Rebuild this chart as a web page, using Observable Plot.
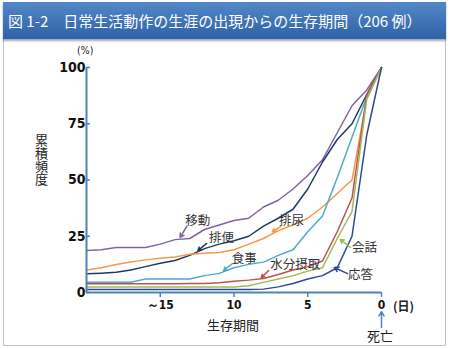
<!DOCTYPE html>
<html><head><meta charset="utf-8">
<script src="https://cdn.jsdelivr.net/npm/d3@7"></script>
<script src="https://cdn.jsdelivr.net/npm/@observablehq/plot@0.6"></script>
<style>
html,body{margin:0;padding:0;background:#fff;width:450px;height:349px;overflow:hidden;position:relative;font-family:"Noto Sans CJK JP",sans-serif;}
#title{position:absolute;left:3px;top:2px;width:443px;height:37px;background:linear-gradient(#5287c8,#2f62a6);box-shadow:0 2px 2px rgba(0,0,0,0.35);color:#fff;font-size:15px;line-height:37px;padding-left:5px;box-sizing:border-box;white-space:nowrap;}
#panel{position:absolute;left:3px;top:39px;width:443px;height:307px;border:1px solid #b9c3cf;border-top:none;box-sizing:border-box;}
#chart{position:absolute;left:0;top:40px;}
.t{position:absolute;color:#222;white-space:nowrap;}
</style></head><body>
<div id="panel"></div>
<div id="title">図 1-2　日常生活動作の生涯の出現からの生存期間（206 例）</div>
<div id="chart"></div>
<div class="t" style="left:77px;top:44px;font-size:10.5px;font-family:'DejaVu Sans Condensed',sans-serif;">(%)</div>
<div class="t" style="left:32px;top:134px;font-size:13px;writing-mode:vertical-rl;">累積頻度</div>
<div class="t" style="left:393px;top:297px;font-size:12px;font-weight:bold;">(日)</div>
<div class="t" style="left:207px;top:315px;font-size:13px;">生存期間</div>
<div class="t" style="left:367px;top:326px;font-size:13px;">死亡</div>
<script>
const days = [20,19,18,17,16,15,14,13,12,11,10,9,8,7,6,5,4,3,2,1,0];
const idou    = [18.7,19,20,20,20,21.5,23.5,24,28,30,32,33,38,41,46,52,59,71,83,90,100];
const haiben  = [8.3,8.6,9,10,11.5,13,14.2,16.5,19.5,21.5,23,25,29.5,33,37,46,58,68,75,88,100];
const hainyou = [10,11,12.4,13.6,14.5,15.2,15.8,17,17.4,17.8,19,21.5,24,27.5,30,33,38,44,50,86,100];
const shokuji = [4.6,4.6,4.6,4.6,6,6,6,6,7.5,8.5,11,12.5,13.5,16.5,19,27,34,51,69,87,100];
const suibun  = [3.9,3.9,3.9,3.9,3.9,3.9,3.9,4,4,4.3,5,5.5,6.2,8,10,11.5,14,27,42,88,100];
const kaiwa   = [2.4,2.4,2.4,2.4,2.4,2.4,2.4,2.4,2.4,2.4,2.4,3,4.5,6,7.5,9.5,11,24,36,86,100];
const outou   = [1.3,1.3,1.3,1.3,1.3,1.3,1.3,1.3,1.3,1.3,1.3,1.3,1.5,2.5,4,6,7.5,11,25,70,100];

const seriesNames  = ["移動","排便","排尿","食事","水分摂取","会話","応答"];
const seriesValues = [idou,haiben,hainyou,shokuji,suibun,kaiwa,outou];
const seriesColors = ["#8064a2","#1f3a66","#f79646","#4bacc6","#c0504d","#9bbb59","#2c4a94"];

const xTicks = [15,10,5,0];
const xTickLabels = ["～15","10","5","0"];
const yTicks = [0,25,50,75,100];

// annotation labels (day, percent) and arrows (from -> to)
const labelNames = ["移動","排便","排尿","食事","水分摂取","会話","応答"];
const labelX = [12.45,10.85,6.1,9.3,5.85,1.15,1.42];
const labelY = [32,24.4,32,15.1,12.4,19.6,7.6];
const arrowX1 = [13.2,11.85,6.85,10.1,7.65,2.1,2.3];
const arrowY1 = [29.5,21.8,29.3,12.9,9.8,20,8.4];
const arrowX2 = [13.65,12.45,7.4,10.7,8.15,2.8,3.2];
const arrowY2 = [24.5,18.6,27,9.8,6.6,23.6,11.1];

const rows = [];
seriesNames.forEach((n,i)=>days.forEach((d,j)=>rows.push({name:n,day:d,value:seriesValues[i][j]})));
const labels = labelNames.map((n,i)=>({name:n,x:labelX[i],y:labelY[i],x1:arrowX1[i],y1:arrowY1[i],x2:arrowX2[i],y2:arrowY2[i]}));
const death = [{x:0,y1:-15.5,y2:-8.5}];

const chart = Plot.plot({
  width:450, height:309,
  marginLeft:86, marginRight:69, marginTop:27, marginBottom:57,
  x:{domain:[20,0]},
  y:{domain:[0,100]},
  color:{domain:seriesNames, range:seriesColors},
  style:{fontFamily:"'DejaVu Sans Condensed','Liberation Sans',sans-serif", color:"#111", background:"transparent"},
  marks:[
    Plot.line(rows,{x:"day",y:"value",stroke:"name",strokeWidth:1.5}),
    Plot.ruleX([20],{y1:0,y2:100,stroke:"#4f81bd",strokeWidth:2}),
    Plot.ruleY([0],{stroke:"#4f81bd",strokeWidth:2}),
    Plot.axisX({ticks:xTicks,tickFormat:(d)=>xTickLabels[xTicks.indexOf(d)],stroke:"#4f81bd",strokeWidth:1.5,tickSize:5,tickPadding:3,fontSize:12,fontWeight:"bold",label:null}),
    Plot.axisY({ticks:yTicks,stroke:"#4f81bd",strokeWidth:1.5,tickSize:-4,tickPadding:5,fontSize:14,fontWeight:"bold",label:null}),
    Plot.arrow(labels,{x1:"x1",y1:"y1",x2:"x2",y2:"y2",stroke:"name",strokeWidth:1.5,headLength:6}),
    Plot.text(labels,{x:"x",y:"y",text:"name",fontSize:12.5,fill:"#333",fontFamily:"Noto Sans CJK JP"}),
    Plot.arrow(death,{x1:"x",x2:"x",y1:"y1",y2:"y2",stroke:"#4f81bd",strokeWidth:1.5,headLength:5})
  ]
});
document.getElementById("chart").appendChild(chart);
</script>
</body></html>
